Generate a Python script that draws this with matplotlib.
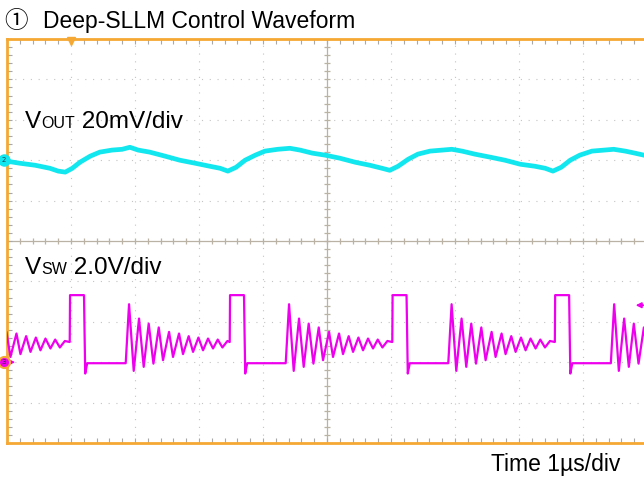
import numpy as np
import matplotlib
matplotlib.use("Agg")
import matplotlib.pyplot as plt

W, H = 644, 480
FONT = ['Liberation Sans', 'Noto Sans CJK JP', 'DejaVu Sans']

# scope screen: 10 x 10 divisions, 1 us/div
n_div_x = 10
n_div_y = 10

# channel 2: output ripple in mV (around its ground marker), 20 mV/div
vout_scale = 20.0
vout_offset_div = 2.0
vout_t = [0.00, 0.20, 0.44, 0.67, 0.80, 0.91, 1.02, 1.14, 1.30, 1.45, 1.64, 1.80,
          1.92, 2.05, 2.23, 2.47, 2.70, 2.94, 3.17, 3.33, 3.45, 3.58, 3.72, 3.88,
          4.03, 4.23, 4.42, 4.58, 4.77, 4.97, 5.20, 5.44, 5.67, 5.86, 5.98, 6.11,
          6.27, 6.42, 6.61, 6.80, 6.95, 7.11, 7.31, 7.55, 7.78, 8.02, 8.25, 8.41,
          8.53, 8.66, 8.80, 8.95, 9.14, 9.33, 9.48, 9.66, 9.81, 9.95]
vout_mv = [-0.5, -1.5, -2.5, -4.0, -5.4, -5.9, -4.0, -1.0, 2.0, 4.0, 5.0, 5.4,
           6.4, 5.0, 4.0, 2.0, 0.0, -1.5, -3.0, -4.0, -5.4, -3.5, 0.0, 2.5,
           4.5, 5.4, 5.9, 5.0, 3.5, 2.5, 1.0, -1.0, -2.5, -4.0, -5.0, -3.0,
           0.5, 3.0, 4.5, 5.0, 5.4, 4.5, 3.0, 1.5, 0.0, -2.0, -3.0, -4.0,
           -5.4, -3.5, 0.0, 2.5, 4.5, 5.0, 5.4, 4.5, 3.5, 2.5]

# channel 3: switch node in V, 2.0 V/div
vsw_scale = 2.0
vsw_offset_div = -3.0
pulse_rise = [-1.56, 0.98, 3.48, 6.02, 8.56]   # us, start of each high pulse
# one cycle read from the screen: time after the rising edge (us) and level (V)
cycle_dt = [0.000, 0.005, 0.223, 0.242, 0.273, 0.875,
            0.927, 1.000, 1.083, 1.156, 1.234, 1.308, 1.391, 1.458, 1.552, 1.614,
            1.708, 1.770, 1.859, 1.927, 2.011, 2.083, 2.161, 2.239, 2.313, 2.386, 2.464]
cycle_v = [1.00, 3.32, 3.32, -0.56, -0.05, -0.05,
           2.87, -0.43, 2.16, -0.23, 1.91, -0.07, 1.72, 0.10, 1.50, 0.26,
           1.42, 0.40, 1.29, 0.51, 1.22, 0.59, 1.17, 0.68, 1.12, 0.73, 1.05]

trigger_t = 1.0
trigger_level_v = 2.82

CYAN = '#12e6ee'
MAGENTA = '#ee00ee'
ORANGE = '#f5a833'
GRID = '#c4c4c4'
AXIS = '#bab3a5'


def put_label(fig, x_px, base_px, parts):
    renderer = fig.canvas.get_renderer()
    x = x_px
    for s, size in parts:
        t = fig.text(x / W, 1 - base_px / H, s, fontsize=size, family=FONT,
                     va='baseline', ha='left', color='black')
        x += t.get_window_extent(renderer).width


def build_plot():
    fig = plt.figure(figsize=(W / 100, H / 100), dpi=100)
    ax = fig.add_axes([7 / W, 37 / H, 640 / W, 404 / H])
    ax.set_xlim(0, n_div_x)
    ax.set_ylim(-n_div_y / 2, n_div_y / 2)

    # dotted graticule
    for i in range(1, n_div_x):
        if i != n_div_x // 2:
            ax.axvline(i, color=GRID, lw=0.8, ls=(0, (1, 6)), zorder=1)
    for j in range(-n_div_y // 2 + 1, n_div_y // 2):
        if j != 0:
            ax.axhline(j, color=GRID, lw=0.8, ls=(0, (1, 6)), zorder=1)

    # center cross with small ticks
    ax.axvline(n_div_x / 2, color=AXIS, lw=0.9, zorder=1)
    ax.axhline(0, color=AXIS, lw=0.9, zorder=1)
    yt = np.arange(-n_div_y / 2, n_div_y / 2 + 0.01, 0.2)
    xt = np.arange(0, n_div_x + 0.01, 0.2)
    ax.plot(np.full_like(yt, n_div_x / 2), yt, ls='none', marker='_', ms=5,
            mew=0.9, color=AXIS, zorder=1)
    ax.plot(xt, np.zeros_like(xt), ls='none', marker='|', ms=5,
            mew=0.9, color=AXIS, zorder=1)

    # border ticks
    ax.set_xticks(range(0, n_div_x + 1))
    ax.set_yticks(range(-n_div_y // 2, n_div_y // 2 + 1))
    ax.set_xticks(xt, minor=True)
    ax.set_yticks(yt, minor=True)
    ax.tick_params(which='both', direction='in', length=3.5, width=0.8,
                   color='#a8a8a8', top=True, right=False,
                   labelbottom=False, labelleft=False)
    for sp in ax.spines.values():
        sp.set_color(ORANGE)
        sp.set_linewidth(2.0)

    # traces
    vout = vout_offset_div + np.array(vout_mv) / vout_scale
    ax.plot(vout_t, vout, color=CYAN, lw=3.4, solid_joinstyle='round', zorder=3)

    vsw_t = np.concatenate([r + np.array(cycle_dt) for r in pulse_rise])
    vsw_v = np.concatenate([np.array(cycle_v) for r in pulse_rise])
    ax.plot(vsw_t, vsw_offset_div + vsw_v / vsw_scale, color=MAGENTA, lw=1.6,
            zorder=3)

    # channel markers
    ax.plot(-0.05, vout_offset_div, 'o', ms=8, mfc=CYAN, mec=CYAN,
            clip_on=False, zorder=5)
    ax.text(-0.05, vout_offset_div, '2', fontsize=5, ha='center', va='center',
            color='#204050', zorder=6, clip_on=False)
    ax.annotate('', xy=(0.17, vsw_offset_div), xytext=(0.0, vsw_offset_div),
                arrowprops=dict(arrowstyle='-|>', color=MAGENTA, lw=1.0,
                                mutation_scale=6), zorder=4)
    ax.plot(-0.05, vsw_offset_div, 'o', ms=8, mfc=MAGENTA, mec=ORANGE, mew=1.5,
            clip_on=False, zorder=5)
    ax.text(-0.05, vsw_offset_div, '3', fontsize=5, ha='center', va='center',
            color='#303030', zorder=6, clip_on=False)

    # trigger position and level
    ax.plot(trigger_t, n_div_y / 2 - 0.06, marker='v', ms=6, color=ORANGE,
            clip_on=False, zorder=5)
    lvl = vsw_offset_div + trigger_level_v / vsw_scale
    ax.annotate('', xy=(9.78, lvl), xytext=(10.0, lvl),
                arrowprops=dict(arrowstyle='-|>', color=MAGENTA, lw=1.2,
                                mutation_scale=8), zorder=4)

    # texts
    fig.text(4 / W, 1 - 28 / H, '\u2460', fontsize=17, family=FONT,
             va='baseline', ha='left')
    fig.text(43 / W, 1 - 28 / H, 'Deep-SLLM Control Waveform', fontsize=16.5,
             family=FONT, va='baseline', ha='left')
    put_label(fig, 25, 128, [('V', 17.5), ('OUT', 11.5), (' 20mV/div', 17.5)])
    put_label(fig, 25, 274, [('V', 17.5), ('SW', 11.5), (' 2.0V/div', 17.5)])
    fig.text(491 / W, 1 - 471 / H, 'Time 1\u00b5s/div', fontsize=16.5,
             family=FONT, va='baseline', ha='left')

    fig.savefig('out.png', dpi=100)


if __name__ == "__main__":
    build_plot()
